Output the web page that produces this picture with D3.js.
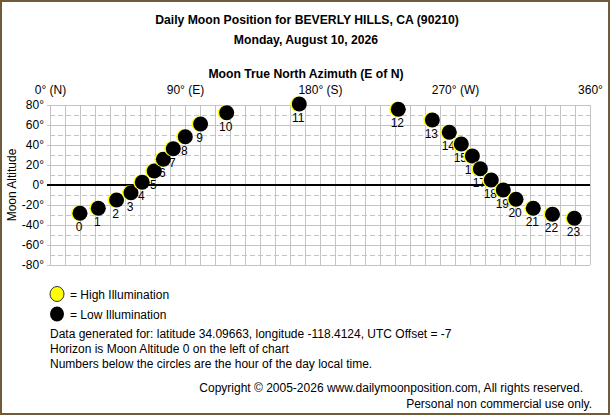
<!DOCTYPE html>
<html>
<head>
<meta charset="utf-8">
<script src="https://cdn.jsdelivr.net/npm/d3@7"></script>
<style>
html,body{margin:0;padding:0;background:#fff;}
svg{display:block;}
text{font-family:"Liberation Sans",Arial,sans-serif;fill:#000;}
</style>
</head>
<body>
<script>
const hours = [0,1,2,3,4,5,6,7,8,9,10,11,12,13,14,15,16,17,18,19,20,21,22,23];
const azimuth = [20,32.2,44.4,54,61.5,69.5,75.6,82.2,90.2,100.4,117.8,166.2,232.2,254.9,266.2,274.2,281.6,286.9,294.2,302.2,310.7,322.2,335,349.6];
const altitude = [-28.3,-23.3,-15,-7.7,2.7,14,25.7,36.3,48.3,61,72.3,81,75.7,65,52.7,41,29,16.3,5,-5,-14.3,-23.3,-29.3,-33.3];
const xTicks = [0,90,180,270,360];
const xTickLabels = ["0° (N)","90° (E)","180° (S)","270° (W)","360°"];
const yTicks = [80,60,40,20,0,-20,-40,-60,-80];
const infoLines = [
  "Data generated for: latitude 34.09663, longitude -118.4124, UTC Offset = -7",
  "Horizon is Moon Altitude 0 on the left of chart",
  "Numbers below the circles are the hour of the day local time."
];

const W = 610, H = 415;
const svg = d3.select("body").append("svg").attr("width", W).attr("height", H);
svg.append("rect").attr("x",1).attr("y",1).attr("width",W-2).attr("height",H-2)
  .attr("fill","#fff").attr("stroke","#6e5c36").attr("stroke-width",2);

const x = d3.scaleLinear().domain([0,360]).range([50,590]);
const y = d3.scaleLinear().domain([-80,80]).range([265,105]);

// titles
svg.append("text").attr("x",307).attr("y",24).attr("text-anchor","middle")
  .attr("font-size",12.2).attr("font-weight","bold").text("Daily Moon Position for BEVERLY HILLS, CA (90210)");
svg.append("text").attr("x",306).attr("y",44).attr("text-anchor","middle")
  .attr("font-size",12.2).attr("font-weight","bold").text("Monday, August 10, 2026");
svg.append("text").attr("x",306).attr("y",78).attr("text-anchor","middle")
  .attr("font-size",12.2).attr("font-weight","bold").text("Moon True North Azimuth (E of N)");

// grid
const g = svg.append("g");
d3.range(0,361,10).forEach(v=>{
  g.append("line").attr("x1",x(v)).attr("x2",x(v)).attr("y1",y(80)).attr("y2",y(-80))
    .attr("stroke","#c4c4c4").attr("stroke-width",1).attr("shape-rendering","crispEdges");
});
d3.range(-80,81,10).forEach(v=>{
  const ln = g.append("line").attr("x1",x(0)-3).attr("x2",x(360)).attr("y1",y(v)).attr("y2",y(v))
    .attr("stroke","#c4c4c4").attr("stroke-width",1).attr("shape-rendering","crispEdges");
  if (v % 20 !== 0) ln.attr("stroke-dasharray","5,3").attr("x1",x(0));
});
g.append("line").attr("x1",x(0)-3).attr("x2",x(360)).attr("y1",y(0)).attr("y2",y(0))
  .attr("stroke","#000").attr("stroke-width",1.2).attr("shape-rendering","crispEdges");

// axes
const xAxis = d3.axisTop(x).tickValues(xTicks).tickSize(0).tickPadding(0)
  .tickFormat((d,i)=>xTickLabels[i]);
const xa = svg.append("g").attr("transform","translate(0,94)").call(xAxis);
xa.select(".domain").remove();
xa.selectAll("text").attr("font-size",12).attr("font-family","Liberation Sans, Arial, sans-serif").attr("fill","#000");

const yAxis = d3.axisLeft(y).tickValues(yTicks).tickSize(0).tickPadding(0)
  .tickFormat(d=>d+"°");
const ya = svg.append("g").attr("transform","translate(44,0)").call(yAxis);
ya.select(".domain").remove();
ya.selectAll("text").attr("font-size",12).attr("font-family","Liberation Sans, Arial, sans-serif").attr("fill","#000");

svg.append("text").attr("transform","translate(16,185) rotate(-90)").attr("text-anchor","middle")
  .attr("font-size",12).text("Moon Altitude");

// moons
const data = hours.map((h,i)=>({h, az:azimuth[i], alt:altitude[i]}));
const m = svg.append("g").selectAll("g").data(data).join("g")
  .attr("transform",d=>`translate(${x(d.az)},${y(d.alt)})`);
m.append("circle").attr("cx",-1.6).attr("cy",0).attr("r",7.5).attr("fill","#ffff00");
m.append("circle").attr("cx",0).attr("cy",0).attr("r",7.5).attr("fill","#000");
m.append("text").attr("x",-1).attr("y",18).attr("text-anchor","middle").attr("font-size",12)
  .text(d=>d.h);

// legend
svg.append("ellipse").attr("cx",57).attr("cy",294).attr("rx",7).attr("ry",7.5)
  .attr("fill","#ffff00").attr("stroke","#333").attr("stroke-width",1);
svg.append("text").attr("x",70).attr("y",298.5).attr("font-size",12).text("= High Illumination");
svg.append("ellipse").attr("cx",57).attr("cy",314).attr("rx",7).attr("ry",7.5).attr("fill","#000");
svg.append("text").attr("x",70).attr("y",318.5).attr("font-size",12).text("= Low Illumination");

svg.selectAll(".info").data(infoLines).join("text").attr("class","info")
  .attr("x",50).attr("y",(d,i)=>338+i*15).attr("font-size",12).text(d=>d);

svg.append("text").attr("x",583).attr("y",392).attr("text-anchor","end").attr("font-size",12)
  .text("Copyright © 2005-2026 www.dailymoonposition.com, All rights reserved.");
svg.append("text").attr("x",592).attr("y",408).attr("text-anchor","end").attr("font-size",12)
  .text("Personal non commercial use only.");
</script>
</body>
</html>
